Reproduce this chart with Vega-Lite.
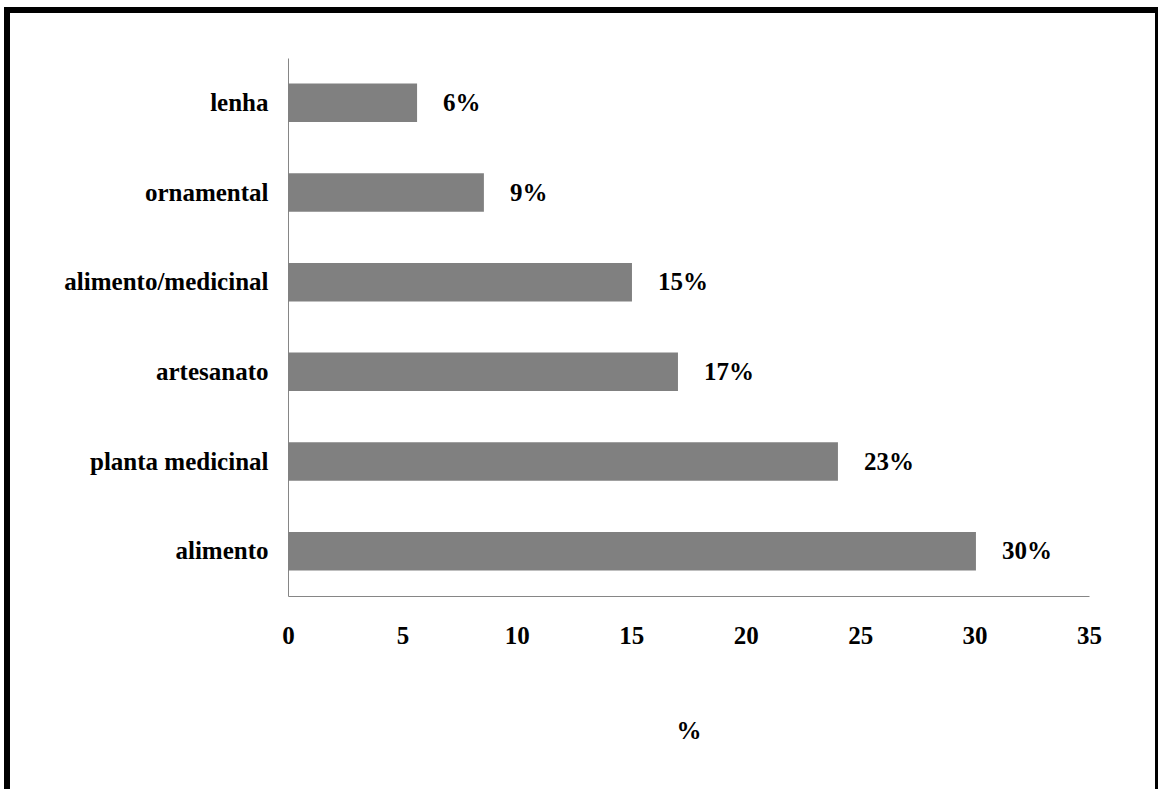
{
  "$schema": "https://vega.github.io/schema/vega-lite/v6.json",
  "autosize": "none",
  "width": 1151,
  "height": 779,
  "padding": {"left": 7, "top": 10, "right": 0, "bottom": 0},
  "background": "white",
  "config": {
    "font": "Liberation Serif",
    "view": {"stroke": "black", "strokeWidth": 6, "strokeDash": [1930, 1151]}
  },
  "data": {
    "values": [
      {"uso": "lenha", "valor": 5.64, "rotulo": "6%"},
      {"uso": "ornamental", "valor": 8.56, "rotulo": "9%"},
      {"uso": "alimento/medicinal", "valor": 15.03, "rotulo": "15%"},
      {"uso": "artesanato", "valor": 17.04, "rotulo": "17%"},
      {"uso": "planta medicinal", "valor": 24.03, "rotulo": "23%"},
      {"uso": "alimento", "valor": 30.06, "rotulo": "30%"}
    ]
  },
  "encoding": {
    "y": {
      "field": "uso",
      "type": "nominal",
      "sort": null,
      "scale": {"range": [48, 586], "paddingInner": 0.57, "paddingOuter": 0.285},
      "axis": {
        "orient": "left",
        "offset": -281,
        "title": null,
        "ticks": false,
        "grid": false,
        "domainColor": "#868686",
        "domainWidth": 1,
        "labelPadding": 20,
        "labelFontSize": 25,
        "labelFontWeight": "bold",
        "labelColor": "black",
        "labelFont": "Liberation Serif",
        "labelLimit": 400
      }
    },
    "x": {
      "field": "valor",
      "type": "quantitative",
      "scale": {"domain": [0, 35], "range": [281, 1082], "nice": false},
      "axis": {
        "orient": "bottom",
        "offset": -193,
        "values": [0, 5, 10, 15, 20, 25, 30, 35],
        "title": "%",
        "titleFontSize": 25,
        "titleFontWeight": "bold",
        "titleColor": "black",
        "titleFont": "Liberation Serif",
        "titleY": 142,
        "titleBaseline": "alphabetic",
        "ticks": false,
        "grid": false,
        "domainColor": "#868686",
        "domainWidth": 1,
        "labelPadding": 27,
        "labelFontSize": 25,
        "labelFontWeight": "bold",
        "labelColor": "black",
        "labelFont": "Liberation Serif",
        "labelFlush": false,
        "labelOverlap": false
      }
    }
  },
  "layer": [
    {"mark": {"type": "bar", "color": "#808080"}},
    {
      "mark": {
        "type": "text",
        "align": "left",
        "baseline": "middle",
        "dx": 26,
        "fontSize": 25,
        "fontWeight": "bold",
        "color": "black",
        "font": "Liberation Serif"
      },
      "encoding": {"text": {"field": "rotulo", "type": "nominal"}}
    }
  ]
}
